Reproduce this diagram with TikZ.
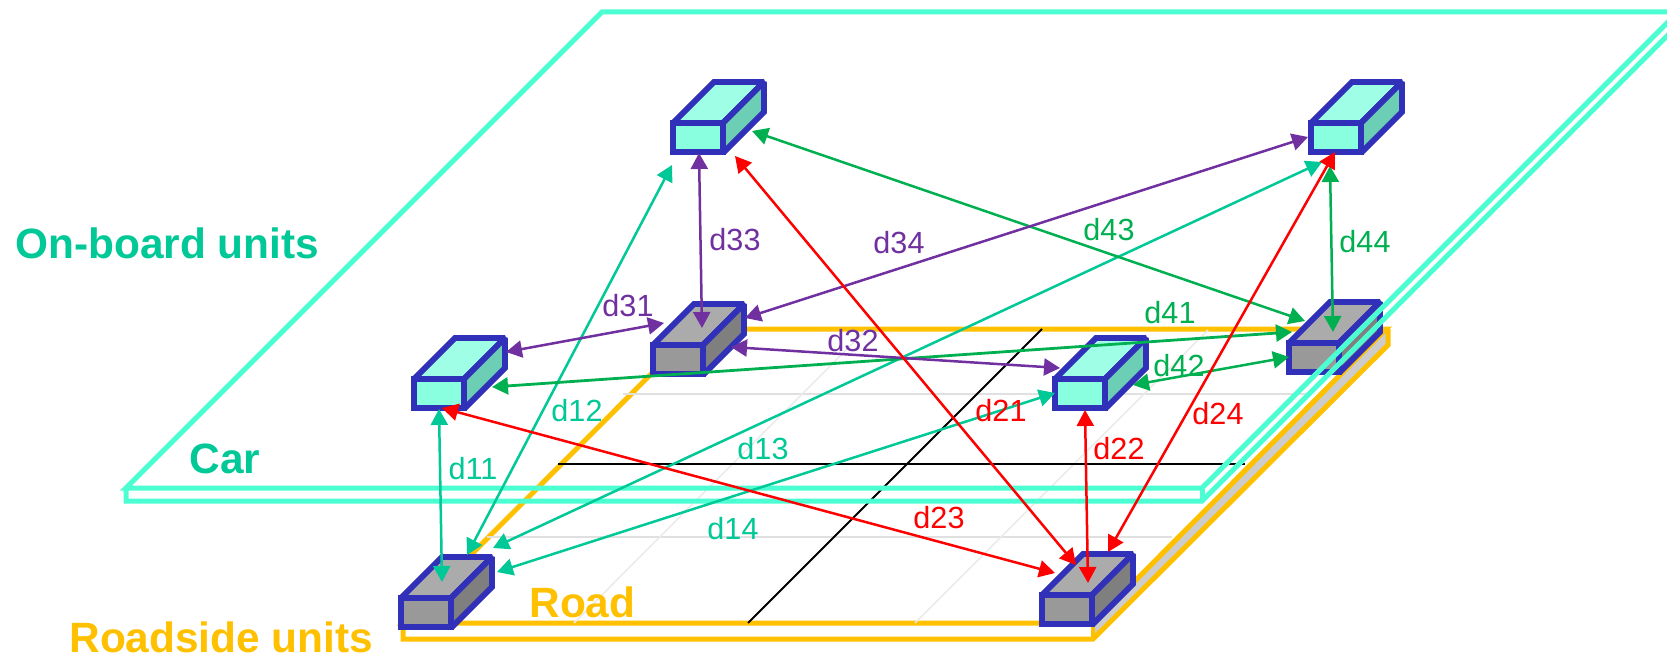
\documentclass[tikz,border=0pt]{standalone}
\usepackage{fontspec}
\setmainfont{Liberation Sans}
\usetikzlibrary{arrows.meta}
\definecolor{carc}{HTML}{4BFFD2}
\definecolor{roadc}{HTML}{FFC000}
\definecolor{teal1}{HTML}{00C896}
\definecolor{green1}{HTML}{00B050}
\definecolor{purp}{HTML}{7030A0}
\definecolor{edgec}{HTML}{3030B8}
\tikzset{
  big/.style={font=\fontsize{21.2}{25}\selectfont\bfseries,anchor=base west,inner sep=0pt},
  lab/.style={font=\fontsize{15.3}{18}\selectfont,inner sep=0pt},
  both/.style={{Triangle[length=8pt,width=8.5pt]}-{Triangle[length=8pt,width=8.5pt]},line width=1.25pt},
  carline/.style={draw=carc,line width=2.5pt,line join=miter},
  roadline/.style={draw=roadc,line width=2.5pt,line join=miter},
  faint/.style={draw=black!12,line width=0.9pt},
  faintd/.style={draw=black!8,line width=0.8pt},
  cen/.style={draw=black,line width=1pt},
  unitedge/.style={draw=edgec,line width=2.9pt,line join=miter,miter limit=2},
}
% #1 name, #2 x, #3 y (front rectangle top-left), #4 top, #5 front, #6 side
\newcommand{\unitbox}[6]{%
  \path[unitedge,fill=#4] (#2,#3) -- ++(41,-41) -- ++(50,0) -- ++(-41,41) -- cycle;
  \path[unitedge,fill=#6] (#2+50,#3) -- ++(41,-41) -- ++(0,30) -- ++(-41,41) -- cycle;
  \path[unitedge,fill=#5] (#2,#3) rectangle ++(50,29);
  \node[inner sep=0pt,minimum width=45pt,minimum height=35pt] (#1) at (#2+45,#3-6) {};
}
\newcommand{\obu}[3]{\unitbox{#1}{#2}{#3}{HTop}{HFront}{HSide}}
\newcommand{\rsu}[3]{\unitbox{#1}{#2}{#3}{GTop}{GFront}{GSide}}
\definecolor{HTop}{HTML}{9EFFE6}
\definecolor{HFront}{HTML}{8AFFE0}
\definecolor{HSide}{HTML}{6CCFB5}
\definecolor{GTop}{HTML}{ABABAB}
\definecolor{GFront}{HTML}{999999}
\definecolor{GSide}{HTML}{7F7F7F}
\begin{document}
\begin{tikzpicture}[x=0.5pt,y=-0.5pt]
\useasboundingbox (0,0) rectangle (1667,658);
\clip (0,0) rectangle (1667,658);
% road
\fill[black!20] (1093,623) -- (1386,330) -- (1388,345) -- (1093,639) -- cycle;
\path[roadline] (403,623) -- (1093,623) -- (1386,329) -- (696,329) -- cycle;
\path[roadline] (403,623) -- (403,639) -- (1093,639) -- (1388,345) -- (1388,329);
\draw[draw=roadc,line width=1.6pt] (1093,623) -- (1093,639);
\draw[faint] (623,394) -- (1307,394);
\draw[faint] (487,537) -- (1172,537);
\draw[faintd] (866,330) -- (574,623);
\draw[faintd] (1208,330) -- (915,623);
\draw[cen] (558,464) -- (1245,464);
\draw[cen] (1042,329) -- (748,623);
% roadside units
\rsu{D}{653}{345}
\rsu{E}{401}{598}
\rsu{G}{1042}{595}
\rsu{H}{1289}{343}
% car plate
\path[carline] (1202,488) -- (126,488) -- (602,12) -- (1678,12) -- cycle;
\path[carline] (126,488) -- (126,501) -- (1202,501) -- (1678,25);
\draw[draw=carc,line width=2.5pt] (1202,488) -- (1202,501);
% on-board units
\obu{A}{673}{123}
\obu{B}{1311}{123}
\obu{C}{414}{379}
\obu{F}{1055}{379}
% connector ends
\coordinate (c11) at (439,409); \coordinate (e11) at (442,582);
\coordinate (e12) at (467,555); \coordinate (a12) at (672,165);
\coordinate (e13) at (493,548); \coordinate (b13) at (1322,162);
\coordinate (e14) at (497,572); \coordinate (f14) at (1055,393);
\coordinate (a21) at (735,156); \coordinate (g21) at (1076,565);
\coordinate (f22) at (1085,410); \coordinate (g22) at (1088,583);
\coordinate (c23) at (442,408); \coordinate (g23) at (1055,573);
\coordinate (b24) at (1335,152); \coordinate (g24) at (1108,552);
\coordinate (c31) at (506,352); \coordinate (d31) at (664,323);
\coordinate (d32) at (731,347); \coordinate (f32) at (1060,368);
\coordinate (a33) at (699,153); \coordinate (d33) at (702,328);
\coordinate (d34) at (745,318); \coordinate (b34) at (1308,137);
\coordinate (c41) at (492,387); \coordinate (h41) at (1292,332);
\coordinate (f42) at (1133,385); \coordinate (h42) at (1289,357);
\coordinate (a43) at (752,131); \coordinate (h43) at (1305,321);
\coordinate (b44) at (1330,166); \coordinate (h44) at (1333,332);
% connectors
\draw[both,teal1] (c11) -- (e11);
\draw[both,teal1] (e12) -- (a12);
\draw[both,teal1] (e13) -- (b13);
\draw[both,teal1] (e14) -- (f14);
\draw[both,green1,line width=1.4pt] (c41) -- (h41);
\draw[both,green1] (f42) -- (h42);
\draw[both,green1] (a43) -- (h43);
\draw[both,green1] (b44) -- (h44);
\draw[both,purp] (c31) -- (d31);
\draw[both,purp] (d32) -- (f32);
\draw[both,purp] (a33) -- (d33);
\draw[both,purp] (d34) -- (b34);
\draw[both,red] (a21) -- (g21);
\draw[both,red] (f22) -- (g22);
\draw[both,red] (c23) -- (g23);
\draw[both,red] (b24) -- (g24);
% labels
\node[lab,text=teal1] (l11) at (473,469) {d11};
\node[lab,text=teal1] (l12) at (577,411) {d12};
\node[lab,text=teal1] (l13) at (763,449) {d13};
\node[lab,text=teal1] (l14) at (733,529) {d14};
\node[lab,text=red] (l21) at (1001,411) {d21};
\node[lab,text=red] (l22) at (1119,449) {d22};
\node[lab,text=red] (l23) at (939,518) {d23};
\node[lab,text=red] (l24) at (1218,414) {d24};
\node[lab,text=purp] (l31) at (628,306) {d31};
\node[lab,text=purp] (l32) at (853,341) {d32};
\node[lab,text=purp] (l33) at (735,240) {d33};
\node[lab,text=purp] (l34) at (899,243) {d34};
\node[lab,text=green1] (l41) at (1170,313) {d41};
\node[lab,text=green1] (l42) at (1179,366) {d42};
\node[lab,text=green1] (l43) at (1109,230) {d43};
\node[lab,text=green1] (l44) at (1365,242) {d44};
\node[big,text=teal1] (tobu) at (15,258) {On-board units};
\node[big,text=teal1] (tcar) at (189,473) {Car};
\node[big,text=roadc] (troad) at (529,617) {Road};
\node[big,text=roadc] (trsu) at (69,652) {Roadside units};
\end{tikzpicture}
\end{document}
